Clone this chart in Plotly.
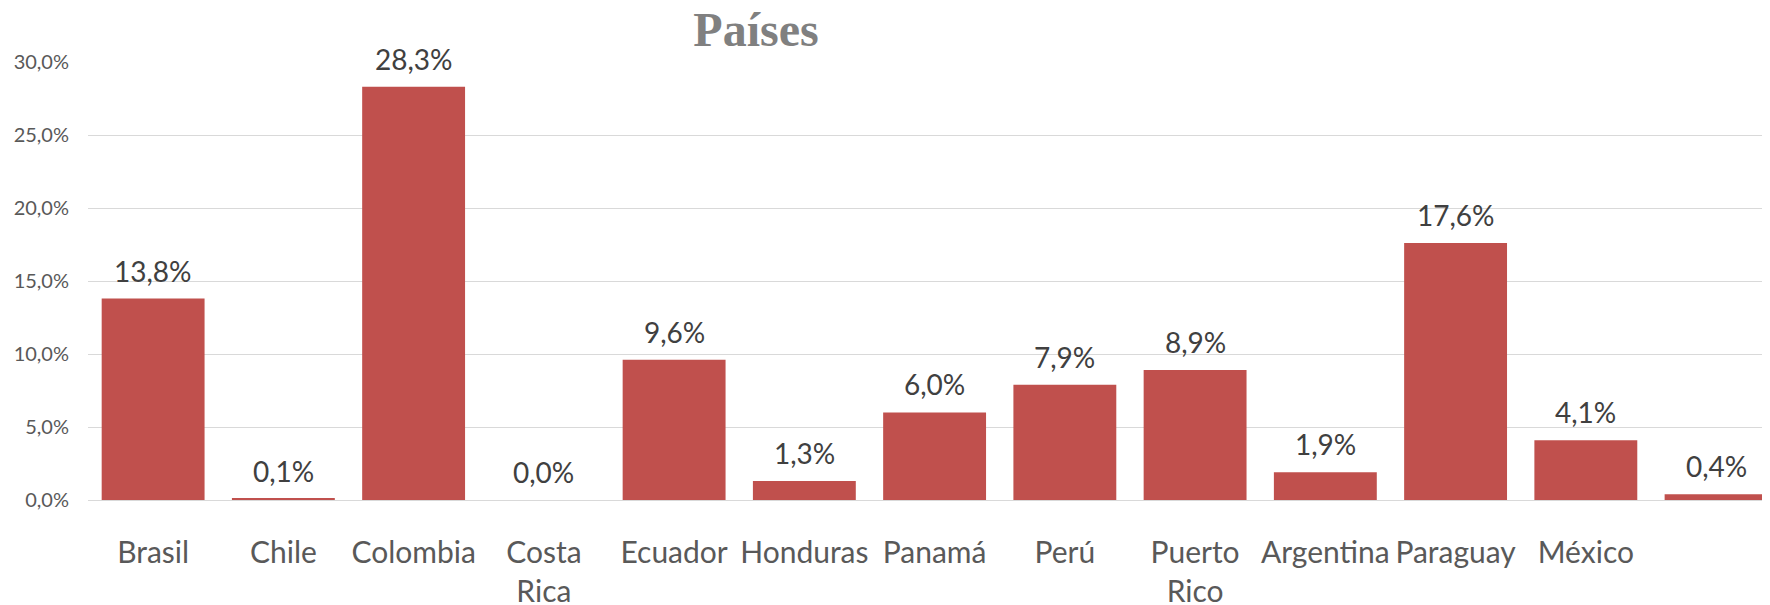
import plotly.graph_objects as go

categories = ["Brasil", "Chile", "Colombia", "Costa<br>Rica", "Ecuador", "Honduras",
              "Panamá", "Perú", "Puerto<br>Rico", "Argentina", "Paraguay", "México", " "]
values = [0.138, 0.001, 0.283, 0.000, 0.096, 0.013, 0.060, 0.079, 0.089,
          0.019, 0.176, 0.041, 0.004]
y_ticks = [0, 0.05, 0.10, 0.15, 0.20, 0.25, 0.30]

BAR = "#C0504D"
FONT = "Lato, 'Open Sans', sans-serif"

W, H = 1762, 597  # page body has an 8px margin

fig = go.Figure()
fig.add_trace(go.Bar(
    x=categories, y=values,
    marker=dict(color=BAR, line=dict(width=0)),
    cliponaxis=False,
    hoverinfo="skip",
))

for c, v in zip(categories, values):
    fig.add_annotation(
        x=c, y=v, xref="x", yref="y",
        text=f"{v*100:.1f}%".replace(".", ","),
        showarrow=False, yanchor="middle", yshift=28,
        font=dict(family=FONT, size=28, color="#404040"),
    )

fig.update_layout(
    width=W, height=H,
    margin=dict(l=80, r=0, t=53.5, b=105, autoexpand=False),
    paper_bgcolor="white", plot_bgcolor="white",
    separators=",.",
    bargap=0.21,
    showlegend=False,
    title=dict(
        text="<b>Países</b>",
        x=748 / W, xref="container", xanchor="center",
        y=1 - 21 / H, yref="container", yanchor="middle",
        font=dict(family="'Liberation Serif', 'DejaVu Serif', serif", size=48, color="#808080"),
    ),
    xaxis=dict(
        type="category",
        range=[-0.5, 12.414],
        showgrid=False,
        showline=True, linecolor="#D9D9D9", linewidth=1,
        ticks="", ticklabelstandoff=26,
        tickfont=dict(family=FONT, size=30, color="#595959"),
        fixedrange=True, automargin=False,
    ),
    yaxis=dict(
        range=[0, 0.30],
        tickvals=y_ticks,
        tickformat=".1%",
        showgrid=True, gridcolor="#D9D9D9", gridwidth=1,
        zeroline=False, showline=False,
        ticks="", ticklabelstandoff=18,
        tickfont=dict(family=FONT, size=20, color="#595959"),
        fixedrange=True, automargin=False,
    ),
)

fig.write_html("out.html")
